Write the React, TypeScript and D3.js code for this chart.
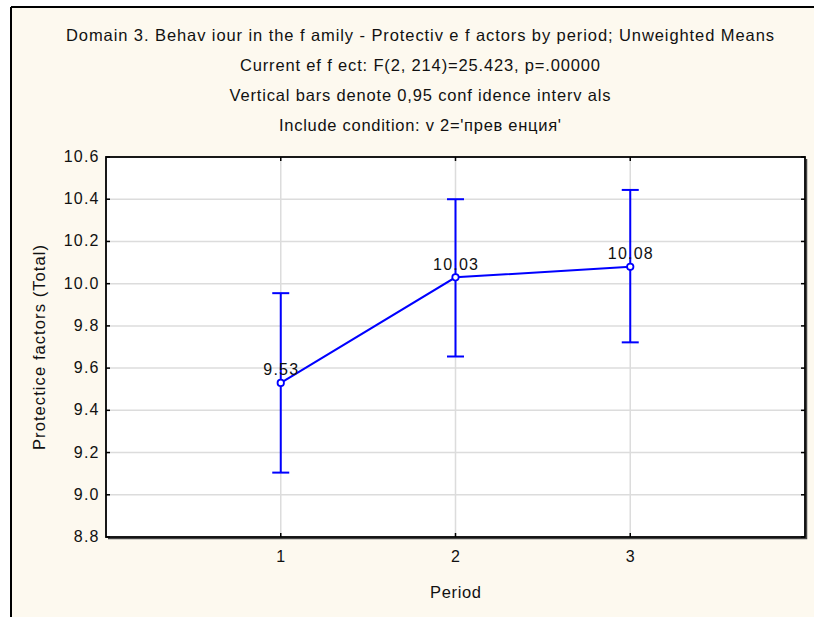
import React from "react";
import * as d3 from "d3";

// Period means with 0.95 confidence limits
const periods = [1, 2, 3];
const means = [9.53, 10.03, 10.08];
const lowerCI = [9.105, 9.655, 9.722];
const upperCI = [9.955, 10.4, 10.444];
const yTicks = [8.8, 9.0, 9.2, 9.4, 9.6, 9.8, 10.0, 10.2, 10.4, 10.6];

const titleLines = [
  "Domain 3. Behav iour in the f amily - Protectiv e f actors by period; Unweighted Means",
  "Current ef f ect: F(2, 214)=25.423, p=.00000",
  "Vertical bars denote 0,95 conf idence interv als",
  "Include condition: v 2='прев енция'",
];
const titleWidths = [708, 360, 381, 282];
const xTitle = "Period";
const yTitle = "Protectice factors (Total)";

const W = 814;
const H = 617;
const plot = { left: 106, right: 805, top: 157, bottom: 537 };
const FONT = "'Liberation Sans', Arial, sans-serif";
const BLUE = "#0000ff";
const LS = 1.2;

export default function App() {
  const x = d3.scaleLinear().domain([0, 4]).range([plot.left, plot.right]);
  const y = d3.scaleLinear().domain([8.8, 10.6]).range([plot.bottom, plot.top]);
  const line = d3
    .line<number>()
    .x((_, i) => x(periods[i]))
    .y((d) => y(d));
  const tick = 4;
  const cap = 8.5;

  return (
    <svg
      width={W}
      height={H}
      style={{ position: "absolute", left: 0, top: 0, background: "#fff" }}
      fontFamily={FONT}
    >
      {/* window frame */}
      <rect x={11} y={7} width={W - 11} height={H - 7} fill="#fdf9ef" />
      <line x1={11} y1={7} x2={W} y2={7} stroke="#000" strokeWidth={2} />
      <line x1={11} y1={7} x2={11} y2={H} stroke="#000" strokeWidth={2} />

      {/* titles */}
      {titleLines.map((t, i) => (
        <text
          key={i}
          x={420}
          y={40.5 + i * 30}
          textAnchor="middle"
          fontSize={16.5}
          fill="#111"
          textLength={titleWidths[i]}
          lengthAdjust="spacing"
        >
          {t}
        </text>
      ))}

      {/* plot area */}
      <rect
        x={plot.left}
        y={plot.top}
        width={plot.right - plot.left}
        height={plot.bottom - plot.top}
        fill="#fff"
      />

      {/* grid */}
      {yTicks.slice(1, -1).map((v) => (
        <line
          key={"gy" + v}
          x1={plot.left}
          x2={plot.right}
          y1={y(v)}
          y2={y(v)}
          stroke="#dcdcdc"
          strokeWidth={1.5}
        />
      ))}
      {periods.map((p) => (
        <line
          key={"gx" + p}
          x1={x(p)}
          x2={x(p)}
          y1={plot.top}
          y2={plot.bottom}
          stroke="#dcdcdc"
          strokeWidth={1.5}
        />
      ))}

      {/* ticks on all four sides, pointing inward */}
      {yTicks.map((v) => (
        <g key={"ty" + v} stroke="#000" strokeWidth={1.5}>
          <line x1={plot.left} x2={plot.left + tick} y1={y(v)} y2={y(v)} />
          <line x1={plot.right} x2={plot.right - tick} y1={y(v)} y2={y(v)} />
        </g>
      ))}
      {periods.map((p) => (
        <g key={"tx" + p} stroke="#000" strokeWidth={1.5}>
          <line x1={x(p)} x2={x(p)} y1={plot.bottom} y2={plot.bottom - tick} />
          <line x1={x(p)} x2={x(p)} y1={plot.top} y2={plot.top + tick} />
        </g>
      ))}

      {/* plot border with slight shadow */}
      <path
        d={`M${plot.right + 1.5},${plot.top + 2} V${plot.bottom + 1.5} H${plot.left + 2}`}
        fill="none"
        stroke="#444"
        strokeWidth={1.5}
      />
      <rect
        x={plot.left}
        y={plot.top}
        width={plot.right - plot.left}
        height={plot.bottom - plot.top}
        fill="none"
        stroke="#000"
        strokeWidth={1.8}
      />

      {/* y tick labels */}
      {yTicks.map((v) => (
        <text
          key={"ly" + v}
          x={98.5 + LS}
          y={y(v) + 5}
          textAnchor="end"
          fontSize={16}
          letterSpacing={LS}
          fill="#111"
        >
          {v.toFixed(1)}
        </text>
      ))}

      {/* x tick labels */}
      {periods.map((p) => (
        <text
          key={"lx" + p}
          x={x(p)}
          y={562}
          textAnchor="middle"
          fontSize={16}
          fill="#111"
        >
          {p}
        </text>
      ))}

      {/* axis titles */}
      <text
        x={(plot.left + plot.right) / 2}
        y={597.5}
        textAnchor="middle"
        fontSize={16.5}
        fill="#111"
        textLength={51}
        lengthAdjust="spacing"
      >
        {xTitle}
      </text>
      <text
        transform={`translate(45,347.5) rotate(-90)`}
        textAnchor="middle"
        fontSize={16.5}
        fill="#111"
        textLength={205}
        lengthAdjust="spacing"
      >
        {yTitle}
      </text>

      {/* confidence intervals */}
      {periods.map((p, i) => (
        <g key={"ci" + p} stroke={BLUE} strokeWidth={2}>
          <line x1={x(p)} x2={x(p)} y1={y(lowerCI[i])} y2={y(upperCI[i])} />
          <line x1={x(p) - cap} x2={x(p) + cap} y1={y(upperCI[i])} y2={y(upperCI[i])} />
          <line x1={x(p) - cap} x2={x(p) + cap} y1={y(lowerCI[i])} y2={y(lowerCI[i])} />
        </g>
      ))}

      {/* means */}
      <path d={line(means) ?? ""} fill="none" stroke={BLUE} strokeWidth={2} />
      {means.map((m, i) => (
        <circle
          key={"pt" + i}
          cx={x(periods[i])}
          cy={y(m)}
          r={3.2}
          fill="#fff"
          stroke={BLUE}
          strokeWidth={1.8}
        />
      ))}
      {means.map((m, i) => (
        <text
          key={"vl" + i}
          x={x(periods[i]) + LS / 2}
          y={y(m) - 7.5}
          textAnchor="middle"
          fontSize={16}
          letterSpacing={LS}
          fill="#111"
        >
          {m.toFixed(2)}
        </text>
      ))}
    </svg>
  );
}
